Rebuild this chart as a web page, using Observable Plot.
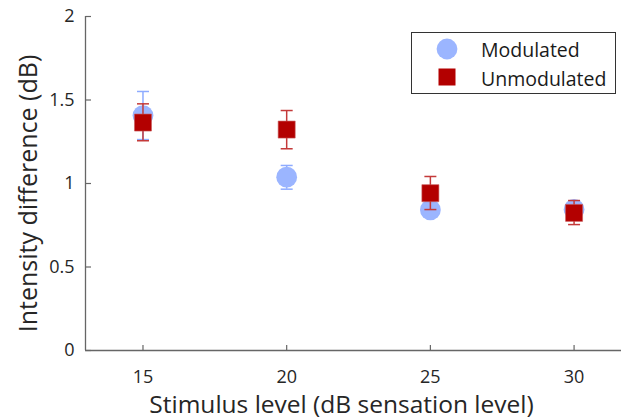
<!DOCTYPE html>
<html>
<head>
<meta charset="utf-8">
<script src="https://cdn.jsdelivr.net/npm/d3@7"></script>
<script src="https://cdn.jsdelivr.net/npm/@observablehq/plot@0.6"></script>
<style>
  html, body { margin: 0; padding: 0; background: #fff; }
  #chart { position: relative; width: 621px; height: 420px; }
</style>
</head>
<body>
<div id="chart"></div>
<script>
// Data
const levels = [15, 20, 25, 30];
const modMean = [1.407, 1.038, 0.842, 0.845];
const modLow = [1.263, 0.966, 0.800, 0.798];
const modHigh = [1.551, 1.108, 0.884, 0.892];
const unmodMean = [1.365, 1.323, 0.942, 0.824];
const unmodLow = [1.256, 1.208, 0.844, 0.754];
const unmodHigh = [1.477, 1.437, 1.042, 0.898];
const xTicks = [15, 20, 25, 30];
const yTicks = [0, 0.5, 1, 1.5, 2];
const seriesNames = ["Modulated", "Unmodulated"];
const xLabel = "Stimulus level (dB sensation level)";
const yLabel = "Intensity difference (dB)";

const xMin = 13, xMax = 31.65;
const blue = "#9bb5ff";
const blueBar = "#8eabff";
const red = "#b30000";
const redBar = "#c43a3a";
const axisColor = "#666";

const mod = levels.map((x, i) => ({x, y: modMean[i], lo: modLow[i], hi: modHigh[i]}));
const unmod = levels.map((x, i) => ({x, y: unmodMean[i], lo: unmodLow[i], hi: unmodHigh[i]}));

const cap = {draw(ctx) { ctx.moveTo(-6, 0); ctx.lineTo(6, 0); }};
const yTickSym = {draw(ctx) { ctx.moveTo(0, 0); ctx.lineTo(5.5, 0); }};
const xTickSym = {draw(ctx) { ctx.moveTo(0, 0); ctx.lineTo(0, -5.5); }};

const plot = Plot.plot({
  width: 621,
  height: 420,
  marginLeft: 85,
  marginRight: 0,
  marginTop: 16,
  marginBottom: 70,
  style: {fontFamily: "'Open Sans', sans-serif", fontSize: "18px", color: "#262626", background: "#fff"},
  x: {domain: [xMin, xMax]},
  y: {domain: [0, 2]},
  marks: [
    Plot.axisX({ticks: xTicks, tickSize: 0, tickPadding: 20, tickFormat: d => String(d), label: null, fontSize: 18}),
    Plot.axisY({ticks: yTicks, tickSize: 0, tickPadding: 11, tickFormat: d => String(d), label: null, fontSize: 18}),
    Plot.ruleX([xMin], {stroke: axisColor, strokeWidth: 1.3}),
    Plot.ruleY([0], {stroke: axisColor, strokeWidth: 1.3}),
    Plot.dot(yTicks, {x: () => xMin, y: d => d, symbol: yTickSym, stroke: axisColor, strokeWidth: 1.2, fill: "none"}),
    Plot.dot(xTicks, {x: d => d, y: () => 0, symbol: xTickSym, stroke: axisColor, strokeWidth: 1.2, fill: "none"}),
    // Modulated
    Plot.ruleX(mod, {x: "x", y1: "lo", y2: "hi", stroke: blueBar, strokeWidth: 1.5}),
    Plot.dot(mod, {x: "x", y: "lo", symbol: cap, stroke: blueBar, strokeWidth: 1.5, fill: "none"}),
    Plot.dot(mod, {x: "x", y: "hi", symbol: cap, stroke: blueBar, strokeWidth: 1.5, fill: "none"}),
    Plot.dot(mod, {x: "x", y: "y", r: 10.4, fill: blue, stroke: "none"}),
    // Unmodulated
    Plot.ruleX(unmod, {x: "x", y1: "lo", y2: "hi", stroke: redBar, strokeWidth: 1.5}),
    Plot.dot(unmod, {x: "x", y: "lo", symbol: cap, stroke: redBar, strokeWidth: 1.5, fill: "none"}),
    Plot.dot(unmod, {x: "x", y: "hi", symbol: cap, stroke: redBar, strokeWidth: 1.5, fill: "none"}),
    Plot.dot(unmod, {x: "x", y: "y", r: 9.6, symbol: "square", fill: red, stroke: "#c85a5a", strokeWidth: 0.6}),
    // Axis titles
    Plot.text([xLabel], {frameAnchor: "bottom", textAnchor: "middle", lineAnchor: "middle", dx: -12, dy: 55, fontSize: 24.5, fill: "#262626"}),
    Plot.text([yLabel], {frameAnchor: "left", textAnchor: "middle", lineAnchor: "middle", rotate: -90, dx: -57, dy: 10, fontSize: 25, fill: "#262626"})
  ]
});

document.getElementById("chart").appendChild(plot);

// Legend (inside the plot area, top right)
const svg = d3.select(plot);
const lg = svg.append("g").attr("class", "legend").attr("text-anchor", "start");
lg.append("rect").attr("x", 411.5).attr("y", 32.5).attr("width", 204).attr("height", 61)
  .attr("fill", "#fff").attr("stroke", "#333").attr("stroke-width", 1);
lg.append("circle").attr("cx", 447).attr("cy", 49).attr("r", 10.4).attr("fill", blue);
lg.append("rect").attr("x", 438.5).attr("y", 68.5).attr("width", 17).attr("height", 17).attr("fill", red);
lg.selectAll("text.lab").data(seriesNames).join("text").attr("class", "lab")
  .attr("x", 481).attr("y", (d, i) => i === 0 ? 57 : 86)
  .attr("text-anchor", "start")
  .attr("font-family", "'Open Sans', sans-serif").attr("font-size", 19.5).attr("fill", "#1a1a1a")
  .text(d => d);
</script>
</body>
</html>
